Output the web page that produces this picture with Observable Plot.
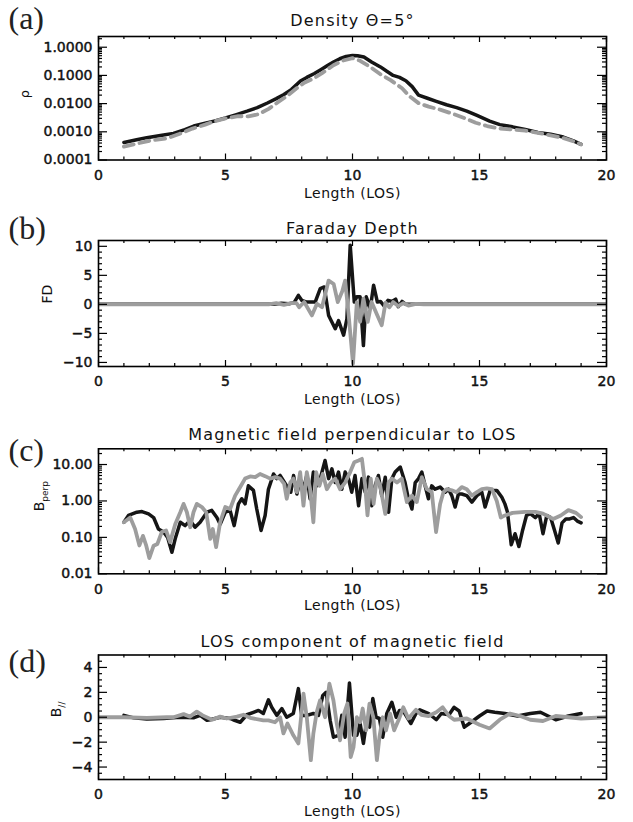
<!DOCTYPE html>
<html>
<head>
<meta charset="utf-8">
<script src="https://cdn.jsdelivr.net/npm/d3@7"></script>
<script src="https://cdn.jsdelivr.net/npm/@observablehq/plot@0.6"></script>
<style>
  body { margin: 0; background: #fff; }
  #wrap { position: relative; width: 633px; height: 822px; background: #fff; overflow: hidden; }
  #wrap svg { position: absolute; left: 0; }
</style>
</head>
<body>
<div id="wrap"></div>
<script>
// ---------- axis ticks ----------
const xMajor = [0, 5, 10, 15, 20];
const xMinor = [1, 2, 3, 4, 6, 7, 8, 9, 11, 12, 13, 14, 16, 17, 18, 19];
const densityTicks = [0.0001, 0.001, 0.01, 0.1, 1];
const densityMinor = [0.0002, 0.0003, 0.0004, 0.0005, 0.0006, 0.0007, 0.0008, 0.0009,
  0.002, 0.003, 0.004, 0.005, 0.006, 0.007, 0.008, 0.009,
  0.02, 0.03, 0.04, 0.05, 0.06, 0.07, 0.08, 0.09,
  0.2, 0.3, 0.4, 0.5, 0.6, 0.7, 0.8, 0.9, 2];
const fdTicks = [-10, -5, 0, 5, 10];
const fdMinor = [-9, -8, -7, -6, -4, -3, -2, -1, 1, 2, 3, 4, 6, 7, 8, 9];
const bperpTicks = [0.01, 0.1, 1, 10];
const bperpMinor = [0.02, 0.03, 0.04, 0.05, 0.06, 0.07, 0.08, 0.09,
  0.2, 0.3, 0.4, 0.5, 0.6, 0.7, 0.8, 0.9,
  2, 3, 4, 5, 6, 7, 8, 9, 20];
const blosTicks = [-4, -2, 0, 2, 4];
const blosMinor = [-4.5, -3.5, -3, -2.5, -1.5, -1, -0.5, 0.5, 1, 1.5, 2.5, 3, 3.5, 4.5];

// ---------- (a) density ----------
const densityBlack = [[1.0,4.2e-4],[1.5,5.2e-4],[1.9,6.2e-4],[2.5,7.6e-4],[2.95,8.8e-4],[3.4,1.2e-3],[3.75,1.6e-3],[4.2,2.0e-3],[4.55,2.4e-3],[5.0,3.1e-3],[5.4,4.0e-3],[5.85,5.4e-3],[6.25,7.2e-3],[6.65,0.0105],[7.0,0.015],[7.3,0.021],[7.6,0.032],[7.95,0.063],[8.2,0.085],[8.5,0.117],[8.75,0.16],[9.0,0.22],[9.25,0.3],[9.5,0.39],[9.75,0.47],[10.0,0.51],[10.2,0.5],[10.45,0.45],[10.75,0.3],[11.1,0.2],[11.35,0.14],[11.6,0.10],[11.85,0.085],[12.1,0.065],[12.35,0.04],[12.6,0.02],[12.95,0.0155],[13.3,0.012],[13.7,0.0091],[14.1,0.0072],[14.5,0.0054],[14.9,0.0038],[15.4,0.0024],[15.8,0.0018],[16.3,0.0015],[16.8,0.0012],[17.3,9.5e-4],[17.8,8.2e-4],[18.3,6.5e-4],[18.7,4.8e-4],[19.0,3.6e-4]];
const densityGray = [[1.0,3.0e-4],[1.5,3.8e-4],[2.0,4.8e-4],[2.7,5.9e-4],[3.2,8.5e-4],[3.7,1.3e-3],[4.2,1.8e-3],[4.6,2.4e-3],[5.0,3.0e-3],[5.5,3.6e-3],[5.9,3.5e-3],[6.3,4.2e-3],[6.7,6.5e-3],[7.05,0.011],[7.4,0.018],[7.8,0.035],[8.1,0.055],[8.47,0.078],[8.8,0.12],[9.25,0.23],[9.6,0.33],[10.0,0.41],[10.3,0.33],[10.7,0.2],[11.1,0.11],[11.5,0.068],[11.95,0.035],[12.25,0.018],[12.6,0.0104],[13.0,0.0078],[13.45,0.0061],[13.9,0.0045],[14.4,0.0031],[14.85,0.0021],[15.3,0.0016],[15.8,0.0013],[16.3,0.0012],[16.8,0.0011],[17.3,9.2e-4],[17.8,7.5e-4],[18.3,6.0e-4],[18.7,4.6e-4],[19.0,3.6e-4]];

// ---------- (b) Faraday depth ----------
const fdBlack = [[0,0],[6.9,0],[7.2,0.2],[7.5,0.1],[7.7,0.3],[7.87,1.55],[8.0,0.7],[8.2,0.4],[8.53,0.4],[8.73,2.7],[8.89,3.0],[9.06,-1.9],[9.32,-4.2],[9.45,-2.8],[9.65,-5.3],[9.78,-2.5],[9.91,10.2],[10.07,0.4],[10.17,1.3],[10.3,1.3],[10.43,-7.1],[10.54,1.3],[10.7,-0.7],[10.83,3.3],[10.98,0.4],[11.1,0.5],[11.25,-0.3],[11.4,0.7],[11.55,0.5],[11.7,0.9],[11.8,-0.4],[11.95,0.5],[12.1,0],[20,0]];
const fdGray = [[0,0],[6.7,0],[7.0,0.2],[7.3,-0.1],[7.6,0.2],[7.8,0.2],[7.9,-0.5],[8.1,0.4],[8.4,-1.9],[8.6,0.1],[8.8,-0.5],[9.06,4.1],[9.26,3.5],[9.42,0.4],[9.6,2.3],[9.71,4.1],[9.85,-1.9],[10.02,-10.2],[10.17,0.4],[10.3,-3.0],[10.43,1.0],[10.6,-3.0],[10.75,0.4],[10.98,-1.9],[11.15,-3.6],[11.3,0.3],[11.45,-0.5],[11.6,0.4],[11.8,-0.3],[12.0,0.2],[12.2,-0.2],[12.5,0.1],[12.8,0],[20,0]];

// ---------- (c) B perpendicular ----------
const bperpBlack = [[1.0,0.26],[1.18,0.40],[1.51,0.49],[1.71,0.51],[1.97,0.44],[2.17,0.35],[2.36,0.17],[2.56,0.14],[2.72,0.10],[2.89,0.039],[3.02,0.091],[3.22,0.26],[3.41,0.21],[3.61,0.29],[3.8,0.19],[4.0,0.26],[4.27,0.49],[4.46,0.55],[4.66,0.35],[4.79,0.23],[4.99,0.49],[5.18,0.55],[5.34,0.21],[5.51,0.83],[5.64,1.15],[5.77,0.83],[5.9,2.6],[6.1,1.95],[6.23,0.60],[6.4,0.155],[6.56,0.40],[6.69,2.1],[6.89,5.5],[7.02,4.1],[7.15,5.0],[7.28,3.6],[7.41,2.6],[7.57,1.74],[7.68,5.0],[7.81,1.55],[7.94,4.1],[8.07,2.1],[8.2,5.0],[8.33,1.15],[8.46,6.2],[8.6,2.6],[8.73,4.1],[8.92,12.9],[9.06,4.1],[9.19,7.6],[9.32,3.2],[9.45,6.2],[9.58,2.1],[9.71,6.2],[9.84,4.1],[9.97,1.74],[10.1,5.0],[10.24,0.74],[10.37,4.1],[10.5,1.74],[10.63,4.5],[10.76,0.74],[10.89,2.6],[11.02,5.0],[11.15,1.4],[11.29,4.5],[11.42,0.49],[11.55,4.1],[11.68,6.2],[11.88,8.5],[12.07,3.2],[12.2,1.15],[12.34,0.60],[12.47,3.2],[12.6,4.1],[12.73,6.2],[12.86,2.6],[12.99,1.15],[13.12,2.6],[13.25,2.1],[13.45,2.4],[13.65,1.74],[13.78,2.1],[13.91,1.4],[14.04,0.68],[14.17,1.55],[14.3,1.55],[14.5,1.4],[14.7,0.93],[14.9,1.4],[15.09,1.74],[15.22,0.68],[15.42,1.95],[15.68,1.95],[15.88,1.26],[16.0,0.83],[16.1,0.5],[16.25,0.063],[16.4,0.126],[16.55,0.056],[16.7,0.16],[16.85,0.40],[17.0,0.45],[17.2,0.35],[17.35,0.45],[17.5,0.126],[17.65,0.40],[17.8,0.35],[17.95,0.16],[18.1,0.07],[18.25,0.25],[18.4,0.32],[18.55,0.32],[18.7,0.35],[18.85,0.28],[19.0,0.25]];
const bperpGray = [[1.0,0.26],[1.25,0.35],[1.44,0.17],[1.61,0.06],[1.75,0.11],[1.88,0.059],[2.0,0.027],[2.17,0.059],[2.32,0.066],[2.49,0.14],[2.66,0.155],[2.82,0.074],[3.02,0.23],[3.22,0.49],[3.35,0.83],[3.48,0.49],[3.61,0.19],[3.74,0.49],[3.87,0.83],[4.07,0.68],[4.24,0.49],[4.4,0.091],[4.5,0.17],[4.63,0.054],[4.79,0.26],[4.99,0.68],[5.18,0.60],[5.38,1.4],[5.58,2.4],[5.77,4.1],[5.97,4.7],[6.17,4.5],[6.36,5.5],[6.56,4.8],[6.76,4.1],[6.96,4.5],[7.15,4.1],[7.31,2.95],[7.41,1.15],[7.55,3.2],[7.68,4.1],[7.81,1.74],[7.94,6.2],[8.07,0.74],[8.2,6.2],[8.33,2.1],[8.46,0.26],[8.57,6.2],[8.7,2.6],[8.83,5.5],[8.99,2.1],[9.15,3.2],[9.32,4.1],[9.51,2.1],[9.71,3.2],[9.91,6.2],[10.07,11.5],[10.24,12.9],[10.37,14.3],[10.5,2.6],[10.59,0.4],[10.72,4.1],[10.83,0.83],[10.96,4.1],[11.09,2.6],[11.29,0.44],[11.42,3.2],[11.55,4.1],[11.75,3.2],[11.94,4.1],[12.14,0.93],[12.34,1.4],[12.53,0.93],[12.73,4.5],[12.93,2.1],[13.12,1.74],[13.29,0.14],[13.45,0.83],[13.58,1.74],[13.71,2.1],[13.91,1.95],[14.1,1.74],[14.3,2.4],[14.5,2.1],[14.7,1.4],[14.9,1.74],[15.09,2.1],[15.29,2.2],[15.49,2.1],[15.68,1.0],[15.84,0.35],[16.0,0.40],[16.3,0.47],[16.8,0.50],[17.2,0.50],[17.5,0.45],[17.9,0.32],[18.2,0.40],[18.5,0.56],[18.8,0.47],[19.0,0.36]];

// ---------- (d) B parallel ----------
const blosBlack = [[1.0,0.15],[1.38,-0.05],[1.9,-0.15],[2.56,-0.1],[3.2,0],[3.74,-0.05],[4.0,0.15],[4.27,-0.25],[4.39,-0.2],[4.79,0],[5.18,-0.1],[5.3,-0.2],[5.58,-0.4],[5.84,0.2],[6.1,0.4],[6.3,0.55],[6.49,0.3],[6.69,1.4],[6.82,0.8],[7.02,0.15],[7.22,0.7],[7.41,0],[7.67,0.3],[7.87,2.3],[8.0,0.15],[8.2,0.15],[8.46,0.3],[8.66,0.15],[8.83,1.75],[8.96,2.0],[9.12,-0.25],[9.25,-1.6],[9.45,-1.45],[9.58,0.15],[9.71,-1.6],[9.88,2.75],[10.04,-1.45],[10.17,-1.45],[10.3,-0.5],[10.43,-2.1],[10.56,-0.25],[10.67,-0.8],[10.8,1.5],[10.93,0],[11.06,-0.1],[11.19,-1.6],[11.35,0.3],[11.55,1.2],[11.72,0],[11.85,0.55],[12.0,0.5],[12.3,-0.5],[12.5,0.3],[12.65,0.6],[13.0,0.3],[13.3,-0.2],[13.5,0.3],[13.8,0.2],[14.0,0.8],[14.2,0.5],[14.4,-0.8],[14.6,-0.5],[14.8,-0.2],[15.0,0.1],[15.3,0.5],[15.6,0.4],[16.0,0.3],[16.5,0.1],[17.0,0.3],[17.4,0.4],[17.7,0.1],[18.0,-0.2],[18.5,0.1],[19.0,0.3]];
const blosGray = [[0,0],[1.0,0],[1.9,-0.05],[2.7,0],[2.95,0],[3.35,0.25],[3.6,0.05],[3.87,0.45],[4.1,0.15],[4.47,-0.2],[4.79,0.05],[5.05,-0.1],[5.45,0.05],[5.71,0.2],[5.97,-0.05],[6.49,-0.25],[6.69,-0.25],[6.95,-0.4],[7.15,0],[7.28,-1.3],[7.44,-0.5],[7.67,-1.45],[7.87,-2.1],[8.07,1.9],[8.2,0],[8.36,-3.45],[8.46,-1.3],[8.59,0.4],[8.72,1.35],[8.92,0],[9.09,2.7],[9.25,1.35],[9.38,-0.5],[9.51,-1.85],[9.67,0.3],[9.8,1.1],[9.93,-3.2],[10.04,-2.4],[10.17,0],[10.3,-0.4],[10.4,0.7],[10.54,-1.05],[10.67,1.1],[10.82,0],[10.96,-3.45],[11.06,-1.6],[11.19,0],[11.32,-1.05],[11.48,0.3],[11.64,-1.05],[11.81,-0.25],[12.0,0.8],[12.2,-0.1],[12.5,0.6],[12.7,0.2],[13.0,0.1],[13.3,0.4],[13.55,0.8],[13.8,0.1],[14.0,-0.2],[14.5,-0.1],[15.0,-0.6],[15.4,-0.9],[15.8,-0.2],[16.2,0.3],[16.6,0.1],[17.0,-0.2],[17.5,-0.3],[18.0,0.1],[18.5,0],[19.0,-0.1],[20,0]];

// ---------- panel builder ----------
const W = 633, ML = 98, MR = 27;
const SANS = "DejaVu Sans, Verdana, sans-serif";
const SERIF = "Liberation Serif, Times New Roman, serif";

function panel(cfg) {
  const fw = W - ML - MR;
  const fh = cfg.height - cfg.mt - cfg.mb;
  const X = d => d[0], Y = d => d[1];
  const tickStyle = {stroke: "#000", strokeWidth: 1.2};
  const marks = [
    Plot.line(cfg.black, {x: X, y: Y, stroke: "#151515", strokeWidth: 3.5, strokeLinejoin: "round", clip: true}),
    Plot.line(cfg.gray, {x: X, y: Y, stroke: "#9d9d9d", strokeWidth: 3.8, strokeLinejoin: "round",
      strokeDasharray: cfg.dash || null, clip: true}),
    // x ticks (inward, top and bottom)
    Plot.tickX(xMajor, {x: d => d, insetTop: fh - 6, ...tickStyle}),
    Plot.tickX(xMajor, {x: d => d, insetBottom: fh - 6, ...tickStyle}),
    Plot.tickX(xMinor, {x: d => d, insetTop: fh - 3, ...tickStyle}),
    Plot.tickX(xMinor, {x: d => d, insetBottom: fh - 3, ...tickStyle}),
    // y ticks (inward, left and right)
    Plot.tickY(cfg.yTicks, {y: d => d, insetRight: fw - 9, ...tickStyle}),
    Plot.tickY(cfg.yTicks, {y: d => d, insetLeft: fw - 9, ...tickStyle}),
    Plot.tickY(cfg.yMinor, {y: d => d, insetRight: fw - 4, ...tickStyle}),
    Plot.tickY(cfg.yMinor, {y: d => d, insetLeft: fw - 4, ...tickStyle}),
    Plot.frame({stroke: "#000", strokeWidth: 1.6}),
    Plot.axisX({ticks: xMajor, tickSize: 0, tickPadding: 10, label: null, fontSize: 14, tickFormat: d => String(d)}),
    Plot.axisY({ticks: cfg.yTicks, tickSize: 0, tickPadding: 6, label: null, fontSize: 14, tickFormat: cfg.fmt}),
    Plot.text([cfg.title], {text: d => d, frameAnchor: "top", dy: cfg.titleDy, lineAnchor: "middle", fontSize: 16, fill: "#111"}),
    Plot.text(["Length (LOS)"], {text: d => d, frameAnchor: "bottom", dy: cfg.xlabDy, lineAnchor: "middle", fontSize: 14, fill: "#111"}),
    Plot.text([cfg.ylabel], {text: d => d, frameAnchor: "left", dx: cfg.ylabDx, rotate: -90, lineAnchor: "middle", fontSize: cfg.ylabSize || 14, fill: "#111"}),
    Plot.text([cfg.letter], {text: d => d, frameAnchor: "top-left", dx: 8 - ML, dy: cfg.letterDy, textAnchor: "start",
      lineAnchor: "middle", fontSize: 32, fontFamily: SERIF, fill: "#222"})
  ];
  const svg = Plot.plot({
    width: W, height: cfg.height,
    marginLeft: ML, marginRight: MR, marginTop: cfg.mt, marginBottom: cfg.mb,
    x: {domain: [0, 20]},
    y: {type: cfg.type, domain: cfg.domain},
    style: {fontFamily: SANS, fontSize: "14px", color: "#111", background: "transparent"},
    marks
  });
  svg.style.top = cfg.top + "px";
  // slightly heavier tick labels, as in the original
  d3.select(svg).selectAll('g[aria-label$="tick label"] text')
    .attr("stroke", "#111").attr("stroke-width", 0.45);
  // letter spacing for titles and subscripts for B labels
  d3.select(svg).selectAll("text").each(function () {
    const t = this.textContent;
    if (t === cfg.title) this.setAttribute("letter-spacing", "1.2");
    if (t === "Length (LOS)") this.setAttribute("letter-spacing", "0.5");
    if (t === "Bperp" || t === "B//") {
      const sub = t.slice(1);
      const sel = d3.select(this);
      sel.text(null);
      sel.append("tspan").text("B");
      sel.append("tspan").attr("font-size", 9).attr("dy", "0.4em").text(sub);
    }
  });
  return svg;
}

const wrap = document.getElementById("wrap");
wrap.appendChild(panel({
  top: 0, height: 208, mt: 36, mb: 48.5, type: "log", domain: [1e-4, 2.4],
  black: densityBlack, gray: densityGray, dash: "10,6",
  yTicks: densityTicks, yMinor: densityMinor, fmt: d => d.toFixed(4),
  title: "Density \u0398=5\u00b0", titleDy: -16, xlabDy: 33.5,
  ylabel: "\u03c1", ylabDx: -74, ylabSize: 13, letter: "(a)", letterDy: -18
}));
wrap.appendChild(panel({
  top: 208, height: 207, mt: 32, mb: 49, type: "linear", domain: [-10.7, 11],
  black: fdBlack, gray: fdGray,
  yTicks: fdTicks, yMinor: fdMinor, fmt: d => (d < 0 ? "\u2212" + Math.abs(d) : String(d)),
  title: "Faraday Depth", titleDy: -12, xlabDy: 33,
  ylabel: "FD", ylabDx: -51, letter: "(b)", letterDy: -12
}));
wrap.appendChild(panel({
  top: 415, height: 205, mt: 33.3, mb: 46.7, type: "log", domain: [0.01, 27],
  black: bperpBlack, gray: bperpGray,
  yTicks: bperpTicks, yMinor: bperpMinor, fmt: d => d.toFixed(2),
  title: "Magnetic field perpendicular to LOS", titleDy: -14, xlabDy: 32,
  ylabel: "Bperp", ylabDx: -59, letter: "(c)", letterDy: 2
}));
wrap.appendChild(panel({
  top: 620, height: 202, mt: 34.5, mb: 43, type: "linear", domain: [-5, 5],
  black: blosBlack, gray: blosGray,
  yTicks: blosTicks, yMinor: blosMinor, fmt: d => (d < 0 ? "\u2212" + Math.abs(d) : String(d)),
  title: "LOS component of magnetic field", titleDy: -13, xlabDy: 32,
  ylabel: "B//", ylabDx: -42, letter: "(d)", letterDy: 6.5
}));
</script>
</body>
</html>
